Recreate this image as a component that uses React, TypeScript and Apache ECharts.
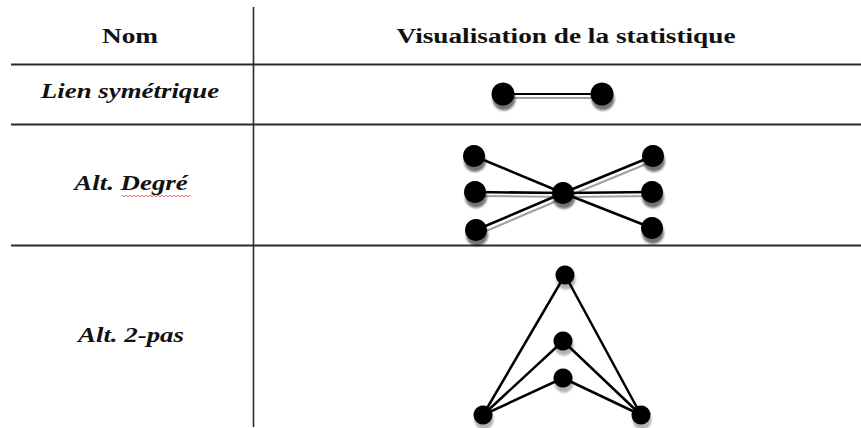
import React, { useEffect, useRef } from "react";
import * as echarts from "echarts";

// ---- table content ----
const headers = ["Nom", "Visualisation de la statistique"];
const rowNames = ["Lien symétrique", "Alt. Degré", "Alt. 2-pas"];

// ---- diagram nodes (plot coordinates) ----
const symNodes: number[][] = [[503, 94], [602, 94]];
const symLinks: number[][] = [[0, 1]];
const symShadowLinks: number[] = [0];

const degNodes: number[][] = [
  [563, 193],
  [474, 156], [475, 192], [476, 230],
  [653, 156], [652, 192], [652, 228],
];
const degLinks: number[][] = [[1, 0], [2, 0], [3, 0], [0, 4], [0, 5], [0, 6]];
const degShadowLinks: number[] = [1, 2, 3, 4];

const pasNodes: number[][] = [
  [565, 275], [563, 341], [563, 378], [483, 415], [641, 415],
];
const pasLinks: number[][] = [[3, 0], [3, 1], [3, 2], [4, 0], [4, 1], [4, 2]];

// ---- table geometry ----
const hLinesY = [64.5, 124.5, 245.5];
const vLineX = 253.5;

const W = 861;
const H = 428;

function graphSeries(nodes: number[][], links: number[][], size: number, width: number, shadowAlpha: number) {
  return {
    type: "graph",
    coordinateSystem: "cartesian2d",
    silent: true,
    symbol: "circle",
    symbolSize: size,
    edgeSymbol: ["none", "none"],
    label: { show: false },
    emphasis: { disabled: true },
    itemStyle: {
      color: "#000",
      shadowColor: `rgba(0,0,0,${shadowAlpha})`,
      shadowBlur: 2,
      shadowOffsetX: 1,
      shadowOffsetY: 5,
    },
    lineStyle: { color: "#000", width, opacity: 1, curveness: 0 },
    data: nodes.map((p) => ({ value: p })),
    links: links.map((l) => ({ source: l[0], target: l[1] })),
  };
}

// gray offset copy of selected links, drawn underneath
function shadowSeries(nodes: number[][], links: number[][], pick: number[], dx: number, dy: number) {
  const sel = links.filter((_, i) => pick.includes(i));
  return {
    type: "graph",
    coordinateSystem: "cartesian2d",
    silent: true,
    symbolSize: 0,
    edgeSymbol: ["none", "none"],
    label: { show: false },
    emphasis: { disabled: true },
    z: 1,
    lineStyle: { color: "#a0a0a0", width: 2, opacity: 1, curveness: 0 },
    data: nodes.map((p) => ({ value: [p[0] + dx, p[1] + dy] })),
    links: sel.map((l) => ({ source: l[0], target: l[1] })),
  };
}

export default function App() {
  const ref = useRef<HTMLDivElement>(null);
  useEffect(() => {
    if (!ref.current) return;
    const chart = echarts.init(ref.current, null, { renderer: "svg" });

    const family = "Liberation Serif";
    const textColor = "#111";
    const lineColor = "#2a2a2a";

    const graphic: any[] = [];
    hLinesY.forEach((y) =>
      graphic.push({
        type: "line",
        silent: true,
        shape: { x1: 11, y1: y, x2: W, y2: y },
        style: { stroke: lineColor, lineWidth: 2 },
      })
    );
    graphic.push({
      type: "line",
      silent: true,
      shape: { x1: vLineX, y1: 7, x2: vLineX, y2: 427 },
      style: { stroke: lineColor, lineWidth: 1.6 },
    });
    const headerX = [130, 566];
    headers.forEach((h, i) =>
      graphic.push({
        type: "text", silent: true, x: headerX[i], y: 35, scaleX: 1.24,
        style: {
          text: h, fontFamily: family, fontWeight: "bold", fontSize: 22,
          fill: textColor, textAlign: "center", textVerticalAlign: "middle",
        },
      })
    );
    const nameX = [130, 131, 131];
    const nameY = [90, 182.5, 334];
    rowNames.forEach((n, i) =>
      graphic.push({
        type: "text", silent: true, x: nameX[i], y: nameY[i], scaleX: 1.25,
        style: {
          text: n, fontFamily: family, fontWeight: "bold", fontStyle: "italic", fontSize: 21.5,
          fill: textColor, textAlign: "center", textVerticalAlign: "middle",
        },
      })
    );
    // spell-check wavy underline under "Degré"
    const wave: number[][] = [];
    for (let x = 122, k = 0; x <= 190; x += 2, k++) wave.push([x, k % 2 === 0 ? 195 : 197]);
    graphic.push({
      type: "polyline", silent: true,
      shape: { points: wave },
      style: { stroke: "#e04040", lineWidth: 0.8, fill: null },
    });

    chart.setOption({
      animation: false,
      backgroundColor: "#fff",
      grid: { left: 0, right: 0, top: 0, bottom: 0 },
      xAxis: { type: "value", min: 0, max: W, show: false },
      yAxis: { type: "value", min: 0, max: H, inverse: true, show: false },
      graphic,
      series: [
        shadowSeries(symNodes, symLinks, symShadowLinks, 3, 4),
        shadowSeries(degNodes, degLinks, degShadowLinks, 3, 4),
        graphSeries(symNodes, symLinks, 23, 2, 0.55),
        graphSeries(degNodes, degLinks, 22, 2.5, 0.55),
        graphSeries(pasNodes, pasLinks, 19, 2.5, 0.3),
      ],
    });
    return () => chart.dispose();
  }, []);
  return <div ref={ref} style={{ position: "fixed", left: 0, top: 0, width: W, height: H }} />;
}
